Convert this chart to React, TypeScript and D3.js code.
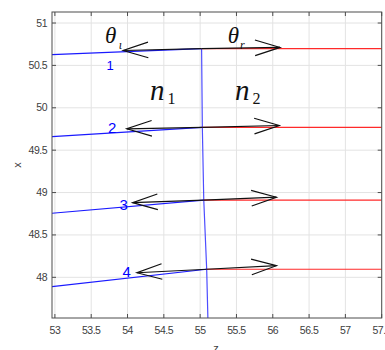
import React from "react";
import * as d3 from "d3";

const W = 385;
const H = 350;

// Axis ticks
const zTicks = [53, 53.5, 54, 54.5, 55, 55.5, 56, 56.5, 57, 57.5];
const xTicks = [48, 48.5, 49, 49.5, 50, 50.5, 51];

// Rays (z = horizontal, x = vertical)
const rayLabels = ["1", "2", "3", "4"];
const incidentStartX = [50.626, 49.66, 48.756, 47.89];
const hitZ = [55.02, 55.03, 55.05, 55.09];
const hitX = [50.697, 49.77, 48.91, 48.095];
const leftTipZ = [53.94, 53.99, 54.07, 54.13];
const leftTipX = [50.676, 49.752, 48.881, 48.054];
const rightTipZ = [56.1, 56.09, 56.05, 56.05];
const rightTipX = [50.712, 49.791, 48.945, 48.137];

// Interface curve
const interfaceZ = [55.02, 55.03, 55.05, 55.09, 55.11];
const interfaceX = [50.697, 49.77, 48.91, 48.095, 47.4];

// Label anchor positions (data coords)
const labelZ = [53.71, 53.73, 53.89, 53.93];
const labelX = [50.44, 49.7, 48.8, 48.0];

const zDomain = [52.96, 57.5];
const xDomain = [47.52, 51.13];

export default function App() {
  const left = 52, right = 381.7, top = 12, bottom = 318;
  const zs = d3.scaleLinear().domain(zDomain).range([left, right]);
  const xs = d3.scaleLinear().domain(xDomain).range([bottom, top]);
  const line = d3.line<[number, number]>().x((d) => zs(d[0])).y((d) => xs(d[1]));

  const arrowHead = (fz: number, fx: number, tz: number, tx: number) => {
    const x0 = zs(fz), y0 = xs(fx), x1 = zs(tz), y1 = xs(tx);
    const dx = x1 - x0, dy = y1 - y0;
    const L = Math.hypot(dx, dy);
    const ux = dx / L, uy = dy / L;
    const hl = 25, hw = 7.8;
    const bx = x1 - ux * hl, by = y1 - uy * hl;
    return `M${bx - uy * hw},${by + ux * hw}L${x1},${y1}L${bx + uy * hw},${by - ux * hw}`;
  };

  const axisColor = "#4d4d4d";
  const tickColor = "#404040";

  return (
    <svg width={W} height={H} style={{ position: "absolute", left: 0, top: 0, background: "#fff" }}
      fontFamily="'Liberation Sans', Arial, sans-serif">
      <defs>
        <clipPath id="plot">
          <rect x={left} y={top} width={right - left} height={bottom - top} />
        </clipPath>
      </defs>
      <rect width={W} height={H} fill="#fff" />
      {/* grid */}
      {zTicks.map((t) => (
        <line key={"gz" + t} x1={zs(t)} x2={zs(t)} y1={top} y2={bottom} stroke="#e3e3e3" strokeWidth={1} />
      ))}
      {xTicks.map((t) => (
        <line key={"gx" + t} x1={left} x2={right} y1={xs(t)} y2={xs(t)} stroke="#e3e3e3" strokeWidth={1} />
      ))}
      <g clipPath="url(#plot)">
        {/* interface */}
        <path d={line(interfaceZ.map((z, i) => [z, interfaceX[i]]) as any) || ""} fill="none" stroke="#4d4dff" strokeWidth={1.2} />
        {/* incident rays */}
        {hitZ.map((hz, i) => (
          <path key={"in" + i} d={line([[zDomain[0], incidentStartX[i]], [hz, hitX[i]]]) || ""} fill="none" stroke="#1a1aff" strokeWidth={1.2} />
        ))}
        {/* transmitted rays */}
        {hitZ.map((hz, i) => (
          <path key={"tr" + i} d={line([[hz, hitX[i]], [zDomain[1], hitX[i]]]) || ""} fill="none" stroke="#ff2a2a" strokeWidth={1.2} />
        ))}
        {/* arrows */}
        {hitZ.map((hz, i) => (
          <g key={"ar" + i} fill="none" stroke="#111" strokeWidth={1.2}>
            <path d={line([[hz, hitX[i]], [leftTipZ[i], leftTipX[i]]]) || ""} />
            <path d={arrowHead(hz, hitX[i], leftTipZ[i], leftTipX[i])} />
            <path d={line([[hz, hitX[i]], [rightTipZ[i], rightTipX[i]]]) || ""} />
            <path d={arrowHead(hz, hitX[i], rightTipZ[i], rightTipX[i])} />
          </g>
        ))}
      </g>
      {/* box */}
      <rect x={left} y={top} width={right - left} height={bottom - top} fill="none" stroke={axisColor} strokeWidth={1} />
      {/* ticks */}
      {zTicks.map((t) => (
        <g key={"tz" + t}>
          <line x1={zs(t)} x2={zs(t)} y1={bottom} y2={bottom - 4} stroke={axisColor} />
          <line x1={zs(t)} x2={zs(t)} y1={top} y2={top + 4} stroke={axisColor} />
          <text x={zs(t)} y={334} textAnchor="middle" fontSize={10.5} fill={tickColor} letterSpacing={-0.5}>{String(t)}</text>
        </g>
      ))}
      {xTicks.map((t) => (
        <g key={"tx" + t}>
          <line x1={left} x2={left + 4} y1={xs(t)} y2={xs(t)} stroke={axisColor} />
          <line x1={right} x2={right - 4} y1={xs(t)} y2={xs(t)} stroke={axisColor} />
          <text x={47} y={xs(t) + 3.5} textAnchor="end" fontSize={10.5} fill={tickColor} letterSpacing={-0.5}>{String(t)}</text>
        </g>
      ))}
      {/* axis labels */}
      <text x={216} y={352} textAnchor="middle" fontSize={11} fill={tickColor}>z</text>
      <text transform={`translate(21,${(top + bottom) / 2}) rotate(-90)`} textAnchor="middle" fontSize={11} fill={tickColor}>x</text>
      {/* ray numbers */}
      {rayLabels.map((l, i) => (
        <text key={"rl" + i} x={zs(labelZ[i])} y={xs(labelX[i])} fontSize={i === 0 ? 13 : 15} fill="#0000ff">{l}</text>
      ))}
      {/* theta and n labels */}
      <g fontFamily="'Liberation Serif', 'DejaVu Serif', serif" fontStyle="italic" fill="#111">
        <text x={zs(53.69)} y={xs(50.767)} fontSize={23}>θ</text>
        <text x={zs(53.88)} y={xs(50.69)} fontSize={12}>ι</text>
        <text x={zs(55.38)} y={xs(50.767)} fontSize={23}>θ</text>
        <text x={zs(55.55)} y={xs(50.695)} fontSize={12}>r</text>
        <text x={zs(54.31)} y={xs(50.094)} fontSize={29}>n</text>
        <text x={zs(55.48)} y={xs(50.094)} fontSize={29}>n</text>
      </g>
      <g fontFamily="'Liberation Serif', 'DejaVu Serif', serif" fill="#111">
        <text x={zs(54.55)} y={xs(50.045)} fontSize={16}>1</text>
        <text x={zs(55.72)} y={xs(50.045)} fontSize={16}>2</text>
      </g>
    </svg>
  );
}
